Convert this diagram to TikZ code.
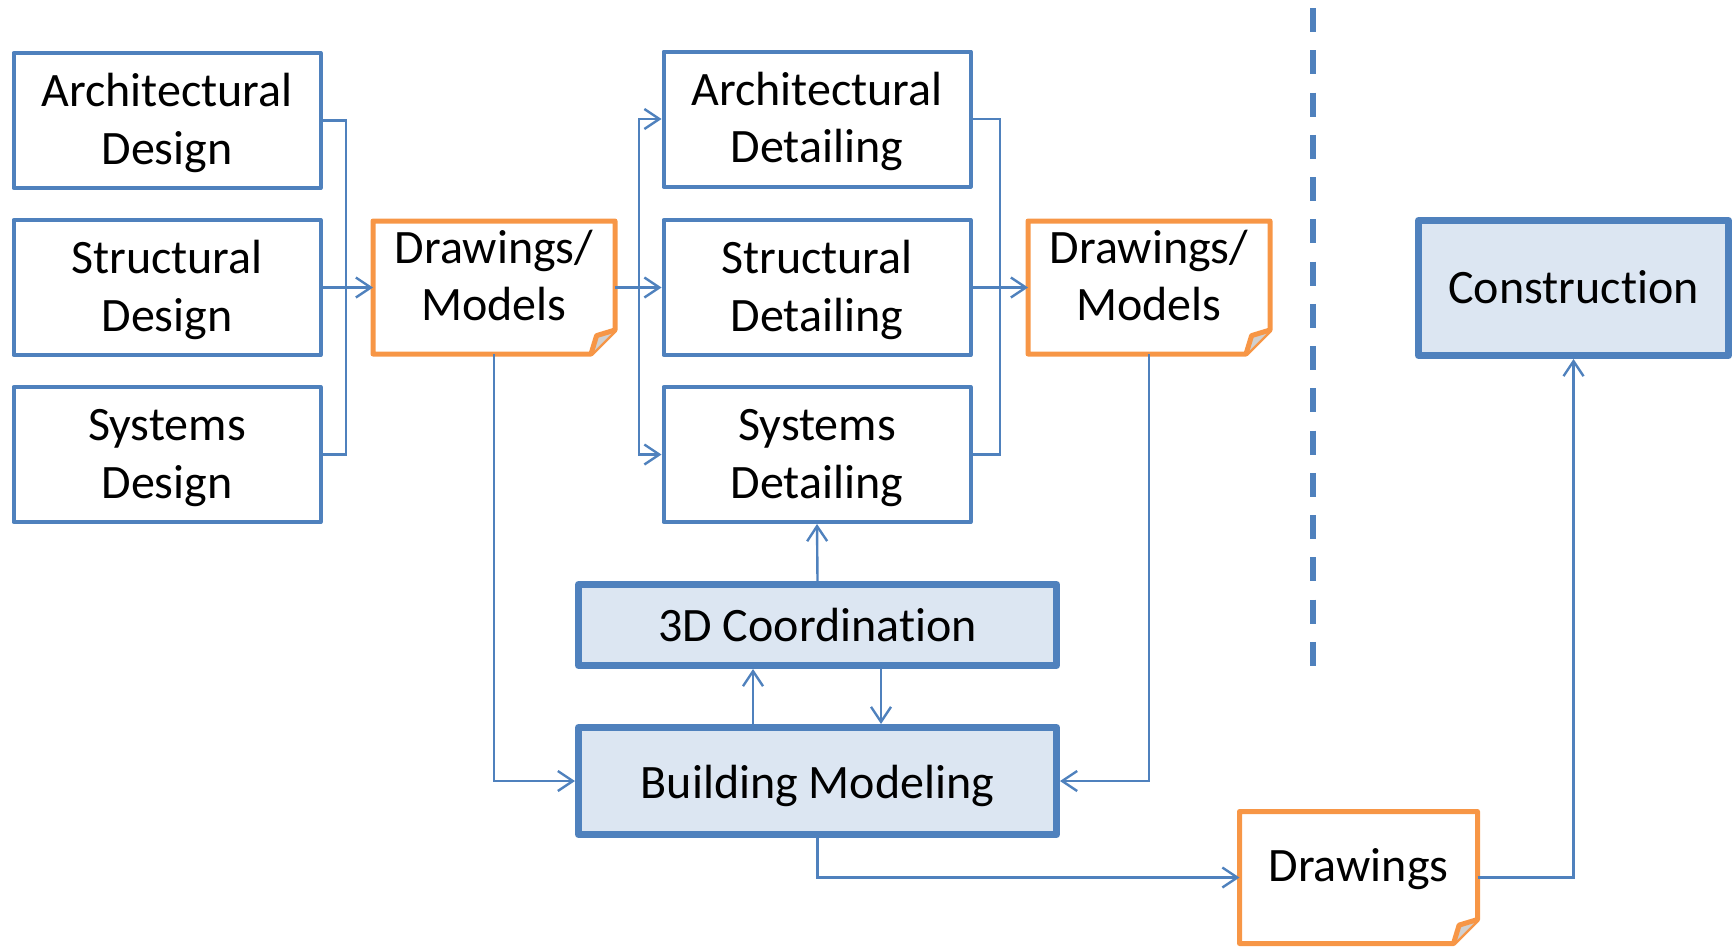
\documentclass[tikz,border=0pt]{standalone}
\usepackage{fontspec}
\setmainfont{Carlito}[Ligatures=NoCommon]
\usetikzlibrary{arrows.meta}
\definecolor{boxblue}{HTML}{4F81BD}
\definecolor{boxfill}{HTML}{DCE6F2}
\definecolor{docorange}{HTML}{F79646}
\definecolor{foldgray}{HTML}{D0D0D0}

% outline of a document node: a sheet with its lower right corner folded over
\newcommand\foldedoutline[1]{%
  \draw[docline] (#1.north west) -- (#1.north east) -- ([yshift=12pt]#1.south east)
    -- ([xshift=-12pt]#1.south east) -- (#1.south west) -- cycle;
  \draw[docline,fill=foldgray] ([xshift=-12pt]#1.south east)
    -- ([xshift=-9.2pt,yshift=9.2pt]#1.south east) -- ([yshift=12pt]#1.south east);
}
% centred lines of text whose first baseline sits #1 above the node centre
\newcommand\boxtext[2]{\raisebox{#1}[0pt][0pt]{\begin{tabular}[t]{@{}c@{}}#2\end{tabular}}}

\begin{document}
\begin{tikzpicture}[x=0.5pt,y=-0.5pt,
  every node/.style={font=\fontsize{24}{28.8}\selectfont, inner sep=0pt},
  taskbox/.style={draw=boxblue, line width=2pt, line join=round, fill=white,
    minimum width=153.5pt, minimum height=67.5pt},
  stagebox/.style={draw=boxblue, line width=3.5pt, line join=round, fill=boxfill},
  docbox/.style={minimum width=121pt, minimum height=66.5pt, outer sep=0pt},
  docline/.style={draw=docorange, line width=2.5pt, line join=round},
  conn/.style={draw=boxblue, line width=1.2pt},
  arr/.style={conn, -{Straight Barb[length=7.5pt,width=10pt,line width=1.2pt]}},
]
\useasboundingbox (0,0) rectangle (1733,948);

% design stage
\node[taskbox] (AD)  at (167,120.5) {\boxtext{6.9pt}{Architectural\\Design}};
\node[taskbox] (SD)  at (167,287.5) {\boxtext{6.9pt}{Structural\\Design}};
\node[taskbox] (SyD) at (167,454.5) {\boxtext{6.9pt}{Systems\\Design}};

% detailing stage
\node[taskbox] (ADet)  at (817,119)   {\boxtext{6.9pt}{Architectural\\Detailing}};
\node[taskbox] (SDet)  at (817,287.5) {\boxtext{6.9pt}{Structural\\Detailing}};
\node[taskbox] (SyDet) at (817,454.5) {\boxtext{6.9pt}{Systems\\Detailing}};

% exchanged documents
\node[docbox] (DM1) at (494,287.5) {\boxtext{12.15pt}{Drawings/\\Models}};
\node[docbox] (DM2) at (1149,287.5) {\boxtext{12.15pt}{Drawings/\\Models}};
\node[docbox, minimum width=119pt, minimum height=66pt] (DR) at (1358.5,877.5) {\boxtext{-2.1pt}{Drawings}};
\foldedoutline{DM1}
\foldedoutline{DM2}
\foldedoutline{DR}

% coordination, modeling and construction
\node[stagebox, minimum width=239pt, minimum height=40.5pt] (C3D) at (817.5,625) {\boxtext{-8.3pt}{3D Coordination}};
\node[stagebox, minimum width=239pt, minimum height=53.5pt] (BM) at (817.5,781) {\boxtext{-8.65pt}{Building Modeling}};
\node[stagebox, minimum width=155pt, minimum height=67.5pt] (CON) at (1573.5,288) {\boxtext{-7.7pt}{Construction}};

% separator between design office and site
\coordinate (sepTop) at (1313,8);
\coordinate (sepBot) at (1313,666);
\draw[boxblue, line width=3pt, dash pattern=on 12pt off 9.13pt] (sepTop) -- (sepBot);

% bus lines
\coordinate (b1) at (346,0);
\coordinate (b2) at (639,0);
\coordinate (b3) at (1000,0);
\coordinate (up) at (753,0);
\coordinate (dn) at (881,0);

\draw[conn] (AD.east) -| (b1 |- SyD.east) -- (SyD.east);
\draw[arr] (SD.east) -- (DM1.west);

\draw[arr] (DM1.east) -- (SDet.west);
\draw[arr] (b2 |- DM1.east) |- (ADet.west);
\draw[arr] (b2 |- DM1.east) |- (SyDet.west);

\draw[conn] (ADet.east) -| (b3 |- SyDet.east) -- (SyDet.east);
\draw[arr] (SDet.east) -- (DM2.west);

\draw[arr] (DM1.south) |- (BM.west);
\draw[arr] (DM2.south) |- (BM.east);

\draw[arr] (C3D.north) -- (SyDet.south);
\draw[arr] (up |- BM.north) -- (up |- C3D.south);
\draw[arr] (dn |- C3D.south) -- (dn |- BM.north);

\draw[arr] (BM.south) |- (DR.west);
\draw[arr, line width=1.7pt] (DR.east) -| (CON.south);
\end{tikzpicture}
\end{document}
